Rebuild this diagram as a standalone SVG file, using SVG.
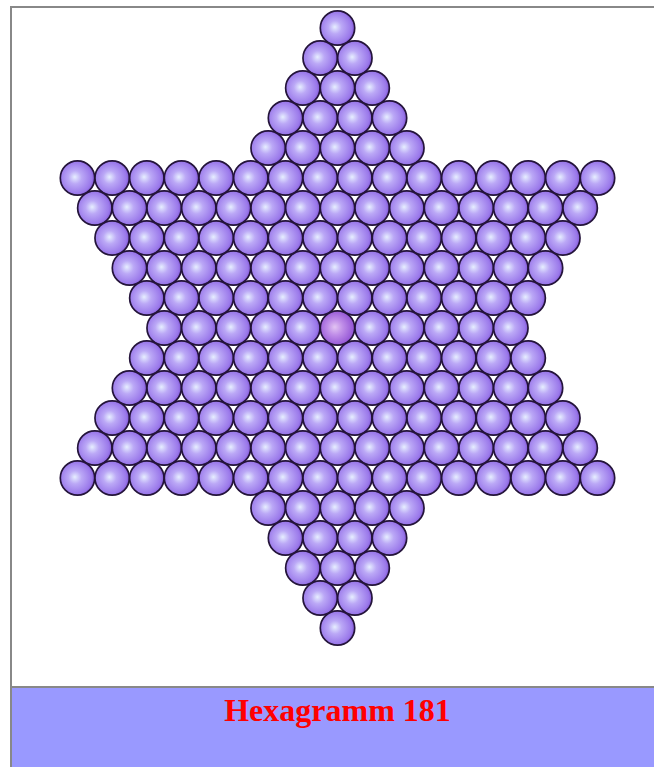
<svg xmlns="http://www.w3.org/2000/svg" xmlns:xlink="http://www.w3.org/1999/xlink" width="654" height="767" viewBox="0 0 654 767">
<style>
.frame{fill:#fff;stroke:#888;stroke-width:2}
.banner{fill:#9999ff}
.bline{stroke:#888;stroke-width:2}
.ball{fill:url(#gb);stroke:#24143a;stroke-width:1.7}
.ballc{fill:url(#gc);stroke:#24143a;stroke-width:1.7}
.title{font-family:"Liberation Serif","Times New Roman",serif;font-weight:bold;font-size:32px;fill:#ff0000}
</style>
<defs>
<radialGradient id="gb" cx="0.45" cy="0.5" r="0.55" fx="0.42" fy="0.47">
<stop offset="0" stop-color="#e6eeff"/>
<stop offset="0.35" stop-color="#bba8f6"/>
<stop offset="0.85" stop-color="#9a78ea"/>
<stop offset="1" stop-color="#7d52d0"/>
</radialGradient>
<radialGradient id="gc" cx="0.45" cy="0.5" r="0.55" fx="0.42" fy="0.47">
<stop offset="0" stop-color="#e2c4f2"/>
<stop offset="0.4" stop-color="#c08ee8"/>
<stop offset="1" stop-color="#9050d4"/>
</radialGradient>
<circle id="b" class="ball" r="17.2" cx="0" cy="0"/>
</defs>
<rect class="frame" x="11" y="7" width="660" height="780"/>
<rect class="banner" x="12" y="687" width="660" height="90"/>
<line class="bline" x1="11" y1="687" x2="654" y2="687"/>
<text class="title" x="337.5" y="721" text-anchor="middle">Hexagramm 181</text>
<g id="star">
<g id="r0" transform="translate(0,28)"><use id="n0_0" href="#b" x="337.5"/></g>
<g id="r1" transform="translate(0,58)"><use id="n1_0" href="#b" x="320.17"/><use id="n1_1" href="#b" x="354.83"/></g>
<g id="r2" transform="translate(0,88)"><use id="n2_0" href="#b" x="302.83"/><use id="n2_1" href="#b" x="337.5"/><use id="n2_2" href="#b" x="372.17"/></g>
<g id="r3" transform="translate(0,118)"><use id="n3_0" href="#b" x="285.5"/><use id="n3_1" href="#b" x="320.17"/><use id="n3_2" href="#b" x="354.83"/><use id="n3_3" href="#b" x="389.5"/></g>
<g id="r4" transform="translate(0,148)"><use id="n4_0" href="#b" x="268.17"/><use id="n4_1" href="#b" x="302.83"/><use id="n4_2" href="#b" x="337.5"/><use id="n4_3" href="#b" x="372.17"/><use id="n4_4" href="#b" x="406.83"/></g>
<g id="r5" transform="translate(0,178)"><use id="n5_0" href="#b" x="77.5"/><use id="n5_1" href="#b" x="112.17"/><use id="n5_2" href="#b" x="146.83"/><use id="n5_3" href="#b" x="181.5"/><use id="n5_4" href="#b" x="216.17"/><use id="n5_5" href="#b" x="250.83"/><use id="n5_6" href="#b" x="285.5"/><use id="n5_7" href="#b" x="320.17"/><use id="n5_8" href="#b" x="354.83"/><use id="n5_9" href="#b" x="389.5"/><use id="n5_10" href="#b" x="424.17"/><use id="n5_11" href="#b" x="458.83"/><use id="n5_12" href="#b" x="493.5"/><use id="n5_13" href="#b" x="528.17"/><use id="n5_14" href="#b" x="562.83"/><use id="n5_15" href="#b" x="597.5"/></g>
<g id="r6" transform="translate(0,208)"><use id="n6_0" href="#b" x="94.83"/><use id="n6_1" href="#b" x="129.5"/><use id="n6_2" href="#b" x="164.17"/><use id="n6_3" href="#b" x="198.83"/><use id="n6_4" href="#b" x="233.5"/><use id="n6_5" href="#b" x="268.17"/><use id="n6_6" href="#b" x="302.83"/><use id="n6_7" href="#b" x="337.5"/><use id="n6_8" href="#b" x="372.17"/><use id="n6_9" href="#b" x="406.83"/><use id="n6_10" href="#b" x="441.5"/><use id="n6_11" href="#b" x="476.17"/><use id="n6_12" href="#b" x="510.83"/><use id="n6_13" href="#b" x="545.5"/><use id="n6_14" href="#b" x="580.17"/></g>
<g id="r7" transform="translate(0,238)"><use id="n7_0" href="#b" x="112.17"/><use id="n7_1" href="#b" x="146.83"/><use id="n7_2" href="#b" x="181.5"/><use id="n7_3" href="#b" x="216.17"/><use id="n7_4" href="#b" x="250.83"/><use id="n7_5" href="#b" x="285.5"/><use id="n7_6" href="#b" x="320.17"/><use id="n7_7" href="#b" x="354.83"/><use id="n7_8" href="#b" x="389.5"/><use id="n7_9" href="#b" x="424.17"/><use id="n7_10" href="#b" x="458.83"/><use id="n7_11" href="#b" x="493.5"/><use id="n7_12" href="#b" x="528.17"/><use id="n7_13" href="#b" x="562.83"/></g>
<g id="r8" transform="translate(0,268)"><use id="n8_0" href="#b" x="129.5"/><use id="n8_1" href="#b" x="164.17"/><use id="n8_2" href="#b" x="198.83"/><use id="n8_3" href="#b" x="233.5"/><use id="n8_4" href="#b" x="268.17"/><use id="n8_5" href="#b" x="302.83"/><use id="n8_6" href="#b" x="337.5"/><use id="n8_7" href="#b" x="372.17"/><use id="n8_8" href="#b" x="406.83"/><use id="n8_9" href="#b" x="441.5"/><use id="n8_10" href="#b" x="476.17"/><use id="n8_11" href="#b" x="510.83"/><use id="n8_12" href="#b" x="545.5"/></g>
<g id="r9" transform="translate(0,298)"><use id="n9_0" href="#b" x="146.83"/><use id="n9_1" href="#b" x="181.5"/><use id="n9_2" href="#b" x="216.17"/><use id="n9_3" href="#b" x="250.83"/><use id="n9_4" href="#b" x="285.5"/><use id="n9_5" href="#b" x="320.17"/><use id="n9_6" href="#b" x="354.83"/><use id="n9_7" href="#b" x="389.5"/><use id="n9_8" href="#b" x="424.17"/><use id="n9_9" href="#b" x="458.83"/><use id="n9_10" href="#b" x="493.5"/><use id="n9_11" href="#b" x="528.17"/></g>
<g id="r10" transform="translate(0,328)"><use id="n10_0" href="#b" x="164.17"/><use id="n10_1" href="#b" x="198.83"/><use id="n10_2" href="#b" x="233.5"/><use id="n10_3" href="#b" x="268.17"/><use id="n10_4" href="#b" x="302.83"/><g id="n10_5"><circle class="ballc" cx="337.5" cy="0" r="17.2"/></g><use id="n10_6" href="#b" x="372.17"/><use id="n10_7" href="#b" x="406.83"/><use id="n10_8" href="#b" x="441.5"/><use id="n10_9" href="#b" x="476.17"/><use id="n10_10" href="#b" x="510.83"/></g>
<g id="r11" transform="translate(0,358)"><use id="n11_0" href="#b" x="146.83"/><use id="n11_1" href="#b" x="181.5"/><use id="n11_2" href="#b" x="216.17"/><use id="n11_3" href="#b" x="250.83"/><use id="n11_4" href="#b" x="285.5"/><use id="n11_5" href="#b" x="320.17"/><use id="n11_6" href="#b" x="354.83"/><use id="n11_7" href="#b" x="389.5"/><use id="n11_8" href="#b" x="424.17"/><use id="n11_9" href="#b" x="458.83"/><use id="n11_10" href="#b" x="493.5"/><use id="n11_11" href="#b" x="528.17"/></g>
<g id="r12" transform="translate(0,388)"><use id="n12_0" href="#b" x="129.5"/><use id="n12_1" href="#b" x="164.17"/><use id="n12_2" href="#b" x="198.83"/><use id="n12_3" href="#b" x="233.5"/><use id="n12_4" href="#b" x="268.17"/><use id="n12_5" href="#b" x="302.83"/><use id="n12_6" href="#b" x="337.5"/><use id="n12_7" href="#b" x="372.17"/><use id="n12_8" href="#b" x="406.83"/><use id="n12_9" href="#b" x="441.5"/><use id="n12_10" href="#b" x="476.17"/><use id="n12_11" href="#b" x="510.83"/><use id="n12_12" href="#b" x="545.5"/></g>
<g id="r13" transform="translate(0,418)"><use id="n13_0" href="#b" x="112.17"/><use id="n13_1" href="#b" x="146.83"/><use id="n13_2" href="#b" x="181.5"/><use id="n13_3" href="#b" x="216.17"/><use id="n13_4" href="#b" x="250.83"/><use id="n13_5" href="#b" x="285.5"/><use id="n13_6" href="#b" x="320.17"/><use id="n13_7" href="#b" x="354.83"/><use id="n13_8" href="#b" x="389.5"/><use id="n13_9" href="#b" x="424.17"/><use id="n13_10" href="#b" x="458.83"/><use id="n13_11" href="#b" x="493.5"/><use id="n13_12" href="#b" x="528.17"/><use id="n13_13" href="#b" x="562.83"/></g>
<g id="r14" transform="translate(0,448)"><use id="n14_0" href="#b" x="94.83"/><use id="n14_1" href="#b" x="129.5"/><use id="n14_2" href="#b" x="164.17"/><use id="n14_3" href="#b" x="198.83"/><use id="n14_4" href="#b" x="233.5"/><use id="n14_5" href="#b" x="268.17"/><use id="n14_6" href="#b" x="302.83"/><use id="n14_7" href="#b" x="337.5"/><use id="n14_8" href="#b" x="372.17"/><use id="n14_9" href="#b" x="406.83"/><use id="n14_10" href="#b" x="441.5"/><use id="n14_11" href="#b" x="476.17"/><use id="n14_12" href="#b" x="510.83"/><use id="n14_13" href="#b" x="545.5"/><use id="n14_14" href="#b" x="580.17"/></g>
<g id="r15" transform="translate(0,478)"><use id="n15_0" href="#b" x="77.5"/><use id="n15_1" href="#b" x="112.17"/><use id="n15_2" href="#b" x="146.83"/><use id="n15_3" href="#b" x="181.5"/><use id="n15_4" href="#b" x="216.17"/><use id="n15_5" href="#b" x="250.83"/><use id="n15_6" href="#b" x="285.5"/><use id="n15_7" href="#b" x="320.17"/><use id="n15_8" href="#b" x="354.83"/><use id="n15_9" href="#b" x="389.5"/><use id="n15_10" href="#b" x="424.17"/><use id="n15_11" href="#b" x="458.83"/><use id="n15_12" href="#b" x="493.5"/><use id="n15_13" href="#b" x="528.17"/><use id="n15_14" href="#b" x="562.83"/><use id="n15_15" href="#b" x="597.5"/></g>
<g id="r16" transform="translate(0,508)"><use id="n16_0" href="#b" x="268.17"/><use id="n16_1" href="#b" x="302.83"/><use id="n16_2" href="#b" x="337.5"/><use id="n16_3" href="#b" x="372.17"/><use id="n16_4" href="#b" x="406.83"/></g>
<g id="r17" transform="translate(0,538)"><use id="n17_0" href="#b" x="285.5"/><use id="n17_1" href="#b" x="320.17"/><use id="n17_2" href="#b" x="354.83"/><use id="n17_3" href="#b" x="389.5"/></g>
<g id="r18" transform="translate(0,568)"><use id="n18_0" href="#b" x="302.83"/><use id="n18_1" href="#b" x="337.5"/><use id="n18_2" href="#b" x="372.17"/></g>
<g id="r19" transform="translate(0,598)"><use id="n19_0" href="#b" x="320.17"/><use id="n19_1" href="#b" x="354.83"/></g>
<g id="r20" transform="translate(0,628)"><use id="n20_0" href="#b" x="337.5"/></g>
</g>
<g id="connectors"/>
</svg>
